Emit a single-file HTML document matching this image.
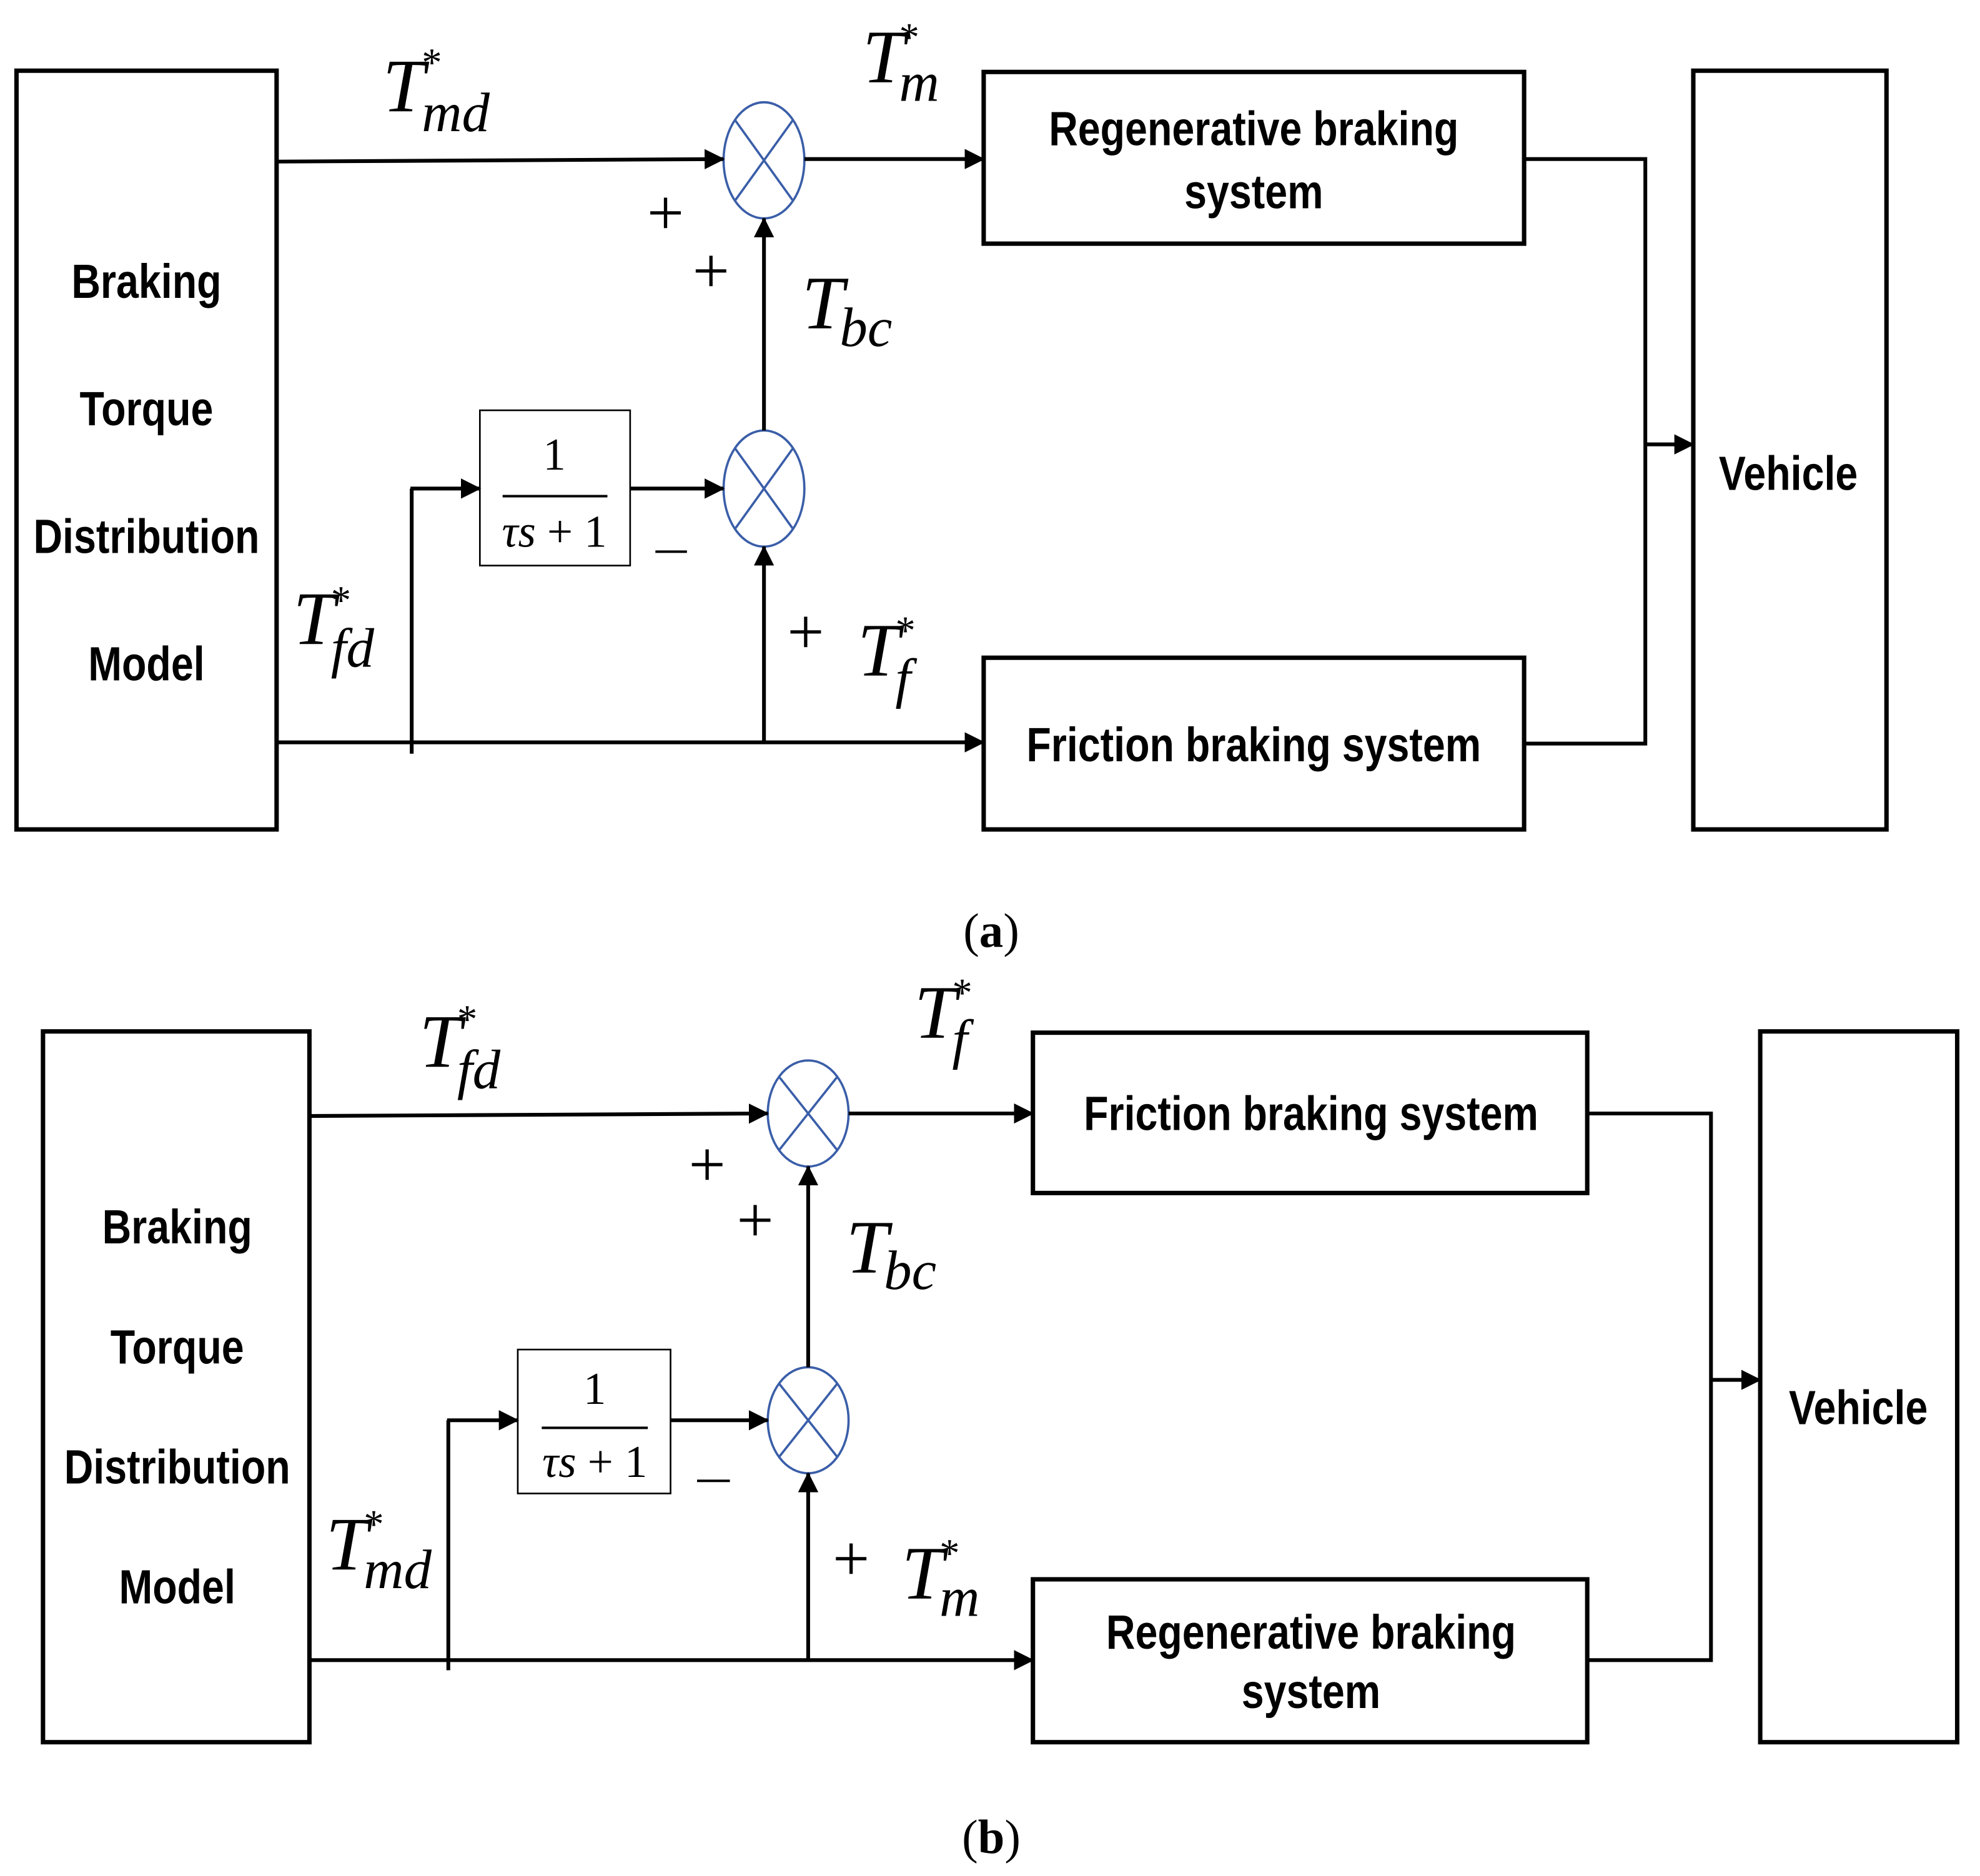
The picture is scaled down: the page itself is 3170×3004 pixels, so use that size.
<!DOCTYPE html>
<html><head><meta charset="utf-8"><style>
html,body{margin:0;padding:0;background:#fff}
svg{display:block}
.b{font-family:"Liberation Sans",sans-serif;font-weight:bold;font-size:38px;fill:#000}
.m{font-family:"Liberation Serif",serif;font-style:italic;fill:#000}
.p{font-family:"Liberation Serif",serif;fill:#000}
</style></head><body>
<svg width="3170" height="3004" viewBox="0 0 1568 1486" xmlns="http://www.w3.org/2000/svg">
<defs>
<marker id="a" markerWidth="16" markerHeight="16" refX="15" refY="8" orient="auto" markerUnits="userSpaceOnUse" viewBox="0 0 16 16">
<path d="M0,0 L16,8 L0,16 z" fill="#000"/></marker>
</defs>
<g id="A">
<rect x="13" y="56" width="206" height="601" fill="none" stroke="#000" stroke-width="3.5"/>
<rect x="779" y="57" width="428" height="136" fill="none" stroke="#000" stroke-width="3.5"/>
<rect x="779" y="521" width="428" height="136" fill="none" stroke="#000" stroke-width="3.5"/>
<rect x="1341" y="56" width="153" height="601" fill="none" stroke="#000" stroke-width="3.5"/>
<rect x="380" y="325" width="119" height="123" fill="none" stroke="#000" stroke-width="1.3"/>
<g fill="none" stroke="#3a5ea8" stroke-width="1.8">
<ellipse cx="605" cy="127" rx="32" ry="46"/>
<line x1="582" y1="95" x2="628" y2="159"/><line x1="628" y1="95" x2="582" y2="159"/>
<ellipse cx="605" cy="387" rx="32" ry="46"/>
<line x1="582" y1="355" x2="628" y2="419"/><line x1="628" y1="355" x2="582" y2="419"/>
</g>
<g stroke="#000" stroke-width="3" fill="none">
<line x1="219" y1="128" x2="573" y2="126" marker-end="url(#a)"/>
<line x1="637" y1="126" x2="779" y2="126" marker-end="url(#a)"/>
<line x1="219" y1="588" x2="779" y2="588" marker-end="url(#a)"/>
<line x1="326" y1="597" x2="326" y2="387"/>
<line x1="325" y1="387" x2="380" y2="387" marker-end="url(#a)"/>
<line x1="499" y1="387" x2="573" y2="387" marker-end="url(#a)"/>
<line x1="605" y1="588" x2="605" y2="433" marker-end="url(#a)"/>
<line x1="605" y1="341" x2="605" y2="173" marker-end="url(#a)"/>
<polyline points="1207,126 1303,126 1303,589 1207,589"/>
<line x1="1303" y1="352" x2="1341" y2="352" marker-end="url(#a)"/>
</g>
<line x1="398" y1="393" x2="481" y2="393" stroke="#000" stroke-width="2"/>
<text class="p" x="439" y="372" font-size="36" text-anchor="middle">1</text>
<text class="p" x="439" y="433" font-size="36" text-anchor="middle"><tspan font-style="italic">τs</tspan> + 1</text>
<g transform="scale(0.84,1)">
<text class="b" x="138" y="236" text-anchor="middle">Braking</text>
<text class="b" x="138" y="337" text-anchor="middle">Torque</text>
<text class="b" x="138" y="438" text-anchor="middle">Distribution</text>
<text class="b" x="138" y="539" text-anchor="middle">Model</text>
<text class="b" x="1182" y="115" text-anchor="middle">Regenerative braking</text>
<text class="b" x="1182" y="165" text-anchor="middle">system</text>
<text class="b" x="1182" y="603" text-anchor="middle">Friction braking system</text>
<text class="b" x="1686" y="388" text-anchor="middle">Vehicle</text>
</g>
<text class="m" x="303" y="88" font-size="60">T</text><text class="p" x="334" y="60" font-size="32">*</text><text class="m" x="334" y="104" font-size="44">md</text>
<text class="m" x="683" y="65" font-size="60">T</text><text class="p" x="712" y="40" font-size="32">*</text><text class="m" x="712" y="80" font-size="44">m</text>
<text class="m" x="635" y="260" font-size="60">T</text><text class="m" x="665" y="274" font-size="44">bc</text>
<text class="m" x="232" y="510" font-size="60">T</text><text class="p" x="262" y="486" font-size="32">*</text><text class="m" x="262" y="528" font-size="44">fd</text>
<text class="m" x="679" y="535" font-size="60">T</text><text class="p" x="709" y="510" font-size="32">*</text><text class="m" x="709" y="552" font-size="44">f</text>
<text class="p" x="527" y="186" font-size="52" text-anchor="middle">+</text>
<text class="p" x="563" y="232" font-size="52" text-anchor="middle">+</text>
<text class="p" x="638" y="518" font-size="52" text-anchor="middle">+</text>
<line x1="519" y1="437" x2="544" y2="437" stroke="#000" stroke-width="2"/>
</g>
<text class="p" x="785" y="750" font-size="38" text-anchor="middle">(<tspan font-weight="bold">a</tspan>)</text>

<g id="B">
<rect x="34" y="817" width="211" height="563" fill="none" stroke="#000" stroke-width="3.5"/>
<rect x="818" y="818" width="439" height="127" fill="none" stroke="#000" stroke-width="3.5"/>
<rect x="818" y="1251" width="439" height="129" fill="none" stroke="#000" stroke-width="3.5"/>
<rect x="1394" y="817" width="156" height="563" fill="none" stroke="#000" stroke-width="3.5"/>
<rect x="410" y="1069" width="121" height="114" fill="none" stroke="#000" stroke-width="1.3"/>
<g fill="none" stroke="#3a5ea8" stroke-width="1.8">
<ellipse cx="640" cy="882" rx="32" ry="42"/>
<line x1="617" y1="853" x2="663" y2="911"/><line x1="663" y1="853" x2="617" y2="911"/>
<ellipse cx="640" cy="1125" rx="32" ry="42"/>
<line x1="617" y1="1096" x2="663" y2="1154"/><line x1="663" y1="1096" x2="617" y2="1154"/>
</g>
<g stroke="#000" stroke-width="3" fill="none">
<line x1="245" y1="884" x2="608" y2="882" marker-end="url(#a)"/>
<line x1="672" y1="882" x2="818" y2="882" marker-end="url(#a)"/>
<line x1="245" y1="1315" x2="818" y2="1315" marker-end="url(#a)"/>
<line x1="355" y1="1323" x2="355" y2="1125"/>
<line x1="354" y1="1125" x2="410" y2="1125" marker-end="url(#a)"/>
<line x1="531" y1="1125" x2="608" y2="1125" marker-end="url(#a)"/>
<line x1="640" y1="1315" x2="640" y2="1167" marker-end="url(#a)"/>
<line x1="640" y1="1083" x2="640" y2="924" marker-end="url(#a)"/>
<polyline points="1257,882 1355,882 1355,1315 1257,1315"/>
<line x1="1355" y1="1093" x2="1394" y2="1093" marker-end="url(#a)"/>
</g>
<line x1="429" y1="1131" x2="513" y2="1131" stroke="#000" stroke-width="2"/>
<text class="p" x="471" y="1112" font-size="36" text-anchor="middle">1</text>
<text class="p" x="471" y="1170" font-size="36" text-anchor="middle"><tspan font-style="italic">τs</tspan> + 1</text>
<g transform="scale(0.84,1)">
<text class="b" x="167" y="985" text-anchor="middle">Braking</text>
<text class="b" x="167" y="1080" text-anchor="middle">Torque</text>
<text class="b" x="167" y="1175" text-anchor="middle">Distribution</text>
<text class="b" x="167" y="1270" text-anchor="middle">Model</text>
<text class="b" x="1236" y="895" text-anchor="middle">Friction braking system</text>
<text class="b" x="1236" y="1306" text-anchor="middle">Regenerative braking</text>
<text class="b" x="1236" y="1353" text-anchor="middle">system</text>
<text class="b" x="1752" y="1128" text-anchor="middle">Vehicle</text>
</g>
<text class="m" x="332" y="845" font-size="60">T</text><text class="p" x="362" y="818" font-size="32">*</text><text class="m" x="362" y="862" font-size="44">fd</text>
<text class="m" x="724" y="822" font-size="60">T</text><text class="p" x="754" y="797" font-size="32">*</text><text class="m" x="754" y="838" font-size="44">f</text>
<text class="m" x="670" y="1008" font-size="60">T</text><text class="m" x="700" y="1021" font-size="44">bc</text>
<text class="m" x="258" y="1243" font-size="60">T</text><text class="p" x="288" y="1218" font-size="32">*</text><text class="m" x="288" y="1258" font-size="44">md</text>
<text class="m" x="714" y="1266" font-size="60">T</text><text class="p" x="744" y="1241" font-size="32">*</text><text class="m" x="744" y="1280" font-size="44">m</text>
<text class="p" x="560" y="940" font-size="52" text-anchor="middle">+</text>
<text class="p" x="598" y="984" font-size="52" text-anchor="middle">+</text>
<text class="p" x="674" y="1252" font-size="52" text-anchor="middle">+</text>
<line x1="552" y1="1173" x2="578" y2="1173" stroke="#000" stroke-width="2"/>
</g>
<text class="p" x="785" y="1468" font-size="38" text-anchor="middle">(<tspan font-weight="bold">b</tspan>)</text>
</svg>
</body></html>
